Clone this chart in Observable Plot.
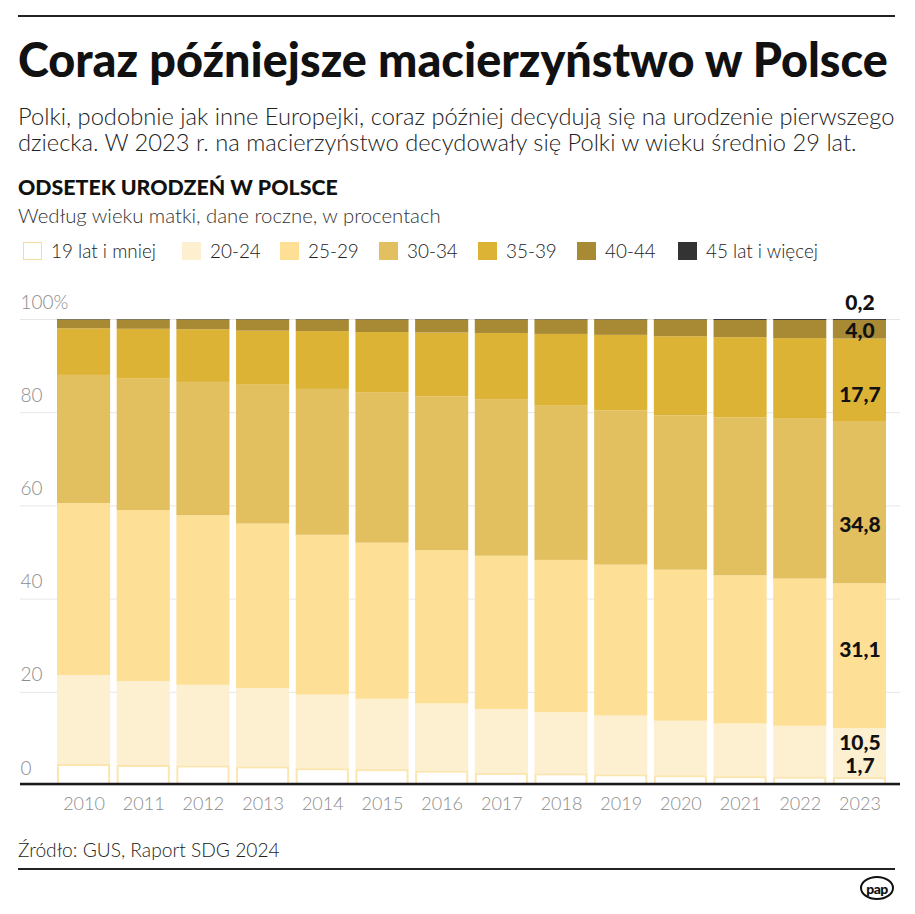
<!DOCTYPE html>
<html>
<head>
<meta charset="utf-8">
<script src="https://cdn.jsdelivr.net/npm/d3@7"></script>
<script src="https://cdn.jsdelivr.net/npm/@observablehq/plot@0.6"></script>
<style>
  html, body { margin: 0; padding: 0; background: #fff; }
  body { width: 915px; height: 914px; position: relative; overflow: hidden; font-family: Lato, "Open Sans", sans-serif; }
  .t { position: absolute; white-space: nowrap; line-height: 1.2; }
  .rule { position: absolute; left: 18px; width: 877px; height: 2px; background: #222; }
  #chart { position: absolute; left: 0; top: 285px; }
  .lg { position: absolute; height: 18px; width: 19px; box-sizing: border-box; }
  #logo { position: absolute; left: 860px; top: 876px; width: 34px; height: 24px; box-sizing: border-box;
          border: 2px solid #111; border-radius: 50%; font: 900 14px Lato, sans-serif; color: #111;
          display: flex; align-items: center; justify-content: center; letter-spacing: -0.5px; }
</style>
</head>
<body>
<div class="rule" style="top:15px"></div>
<span class="t" id="title">Coraz późniejsze macierzyństwo w Polsce</span>
<span class="t" id="sub1">Polki, podobnie jak inne Europejki, coraz później decydują się na urodzenie pierwszego</span>
<span class="t" id="sub2">dziecka. W 2023 r. na macierzyństwo decydowały się Polki w wieku średnio 29 lat.</span>
<span class="t" id="head">ODSETEK URODZEŃ W POLSCE</span>
<span class="t" id="head2">Według wieku matki, dane roczne, w procentach</span>
<div id="legend"></div>
<div id="chart"></div>
<span class="t" id="source">Źródło: GUS, Raport SDG 2024</span>
<div class="rule" style="top:868px"></div>
<div id="logo">pap</div>
<script>
// ---- data ----
const years = [2010, 2011, 2012, 2013, 2014, 2015, 2016, 2017, 2018, 2019, 2020, 2021, 2022, 2023];
const ages = ["19 lat i mniej", "20-24", "25-29", "30-34", "35-39", "40-44", "45 lat i więcej"];
const age19 = [4.5, 4.3, 4.2, 4.0, 3.6, 3.4, 3.1, 2.6, 2.5, 2.3, 2.1, 1.9, 1.8, 1.7];
const age20_24 = [19.1, 18.0, 17.3, 16.8, 15.8, 15.1, 14.4, 13.7, 13.1, 12.6, 11.7, 11.3, 10.9, 10.5];
const age25_29 = [36.9, 36.7, 36.4, 35.3, 34.3, 33.5, 32.9, 32.9, 32.7, 32.4, 32.4, 31.8, 31.6, 31.1];
const age30_34 = [27.5, 28.2, 28.6, 29.8, 31.3, 32.3, 33.0, 33.6, 33.1, 33.1, 33.1, 33.9, 34.3, 34.8];
const age35_39 = [10.0, 10.7, 11.3, 11.6, 12.4, 12.9, 13.7, 14.2, 15.4, 16.2, 17.0, 17.2, 17.3, 17.7];
const age40_44 = [1.9, 2.0, 2.1, 2.4, 2.5, 2.7, 2.8, 2.9, 3.1, 3.3, 3.6, 3.7, 3.9, 4.0];
const age45 = [0.1, 0.1, 0.1, 0.1, 0.1, 0.1, 0.1, 0.1, 0.1, 0.1, 0.1, 0.2, 0.2, 0.2];
const yTicks = [0, 20, 40, 60, 80, 100];

// ---- styles ----
const colors = ["#ffffff", "#fdf0d1", "#fde096", "#e2bf5f", "#dcb334", "#a88a35", "#333333"];
const series = [age19, age20_24, age25_29, age30_34, age35_39, age40_44, age45];
const data = years.flatMap((yr, i) => ages.map((a, j) => ({year: yr, age: a, value: series[j][i]})));
const lastYear = years[years.length - 1];
const fmt = v => v.toFixed(1).replace(".", ",");
const labelDy = {"19 lat i mniej": -15, "20-24": -10, "25-29": -6, "30-34": 23, "35-39": 15, "40-44": 2, "45 lat i więcej": -17};

// ---- header text placement ----
function place(id, x, cy, w, opts) {
  const el = document.getElementById(id);
  Object.assign(el.style, opts);
  el.style.left = x + "px";
  el.style.fontSize = "20px";
  if (w) {
    const cur = el.getBoundingClientRect().width;
    el.style.fontSize = (20 * w / cur) + "px";
  }
  const h = el.getBoundingClientRect().height;
  el.style.top = (cy - h / 2) + "px";
  return parseFloat(el.style.fontSize);
}
place("title", 18, 59, 870, {fontWeight: 900, color: "#111"});
const subFs = place("sub1", 18, 116, 877, {fontWeight: 300, color: "#222"});
const sub2 = document.getElementById("sub2");
sub2.style.fontWeight = 300; sub2.style.color = "#222"; sub2.style.left = "18px"; sub2.style.fontSize = subFs + "px";
sub2.style.top = (142 - sub2.getBoundingClientRect().height / 2) + "px";
place("head", 18, 188, 320, {fontWeight: 900, color: "#111"});
place("head2", 18, 215, 423, {fontWeight: 300, color: "#333"});
place("source", 18, 850, 262, {fontWeight: 300, color: "#222"});

// ---- legend ----
const legend = document.getElementById("legend");
const lgTextX = [51, 210, 308, 407, 506, 605, 706];
let lgFs = null;
ages.forEach((a, i) => {
  const sw = document.createElement("div");
  sw.className = "lg";
  sw.style.left = (lgTextX[i] - 28) + "px";
  sw.style.top = "242px";
  sw.style.background = colors[i];
  if (i === 0) sw.style.border = "1.5px solid #f6dba0";
  legend.appendChild(sw);
  const tx = document.createElement("span");
  tx.className = "t";
  tx.id = "lg" + i;
  tx.textContent = a;
  legend.appendChild(tx);
  if (i === 0) lgFs = place(tx.id, lgTextX[i], 251, 105, {fontWeight: 300, color: "#222"});
  else {
    tx.style.fontWeight = 300; tx.style.color = "#222"; tx.style.left = lgTextX[i] + "px"; tx.style.fontSize = lgFs + "px";
    tx.style.top = (251 - tx.getBoundingClientRect().height / 2) + "px";
  }
});

// ---- chart ----
const labelMarks = ages.map(a => Plot.text(data, Plot.stackY({
  x: "year", y: "value", z: "age",
  text: d => (d.year === lastYear && d.age === a) ? fmt(d.value) : null,
  dy: labelDy[a], fontWeight: 900, fontSize: 21, fill: "#111"
})));

const chart = Plot.plot({
  width: 915,
  height: 540,
  marginTop: 34,
  marginBottom: 40,
  marginLeft: 20,
  marginRight: 15,
  style: {fontFamily: "Lato, sans-serif", fontSize: "18px", background: "transparent", overflow: "visible"},
  x: {type: "band", domain: years, range: [57, 886], paddingInner: 0.11, paddingOuter: 0, round: false, label: null},
  y: {domain: [0, 100], axis: null},
  color: {domain: ages, range: colors},
  marks: [
    Plot.ruleY(yTicks, {stroke: "#e6e6e6", strokeWidth: 1}),
    Plot.barY(data, {x: "year", y: "value", fill: "age"}),
    Plot.barY(data.filter(d => d.age === ages[0]), {x: "year", y: "value", fill: "#ffffff", stroke: "#fbe6b0", strokeWidth: 2, inset: 1}),
    Plot.ruleY([0], {stroke: "#1a1a1a", strokeWidth: 2.5, dy: -1.5}),
    Plot.text(yTicks, {y: d => d, text: d => d === 100 ? "100%" : String(d), frameAnchor: "left", textAnchor: "start",
      dy: -17, fill: "#8c8c8c", fontSize: 19, fontWeight: 300}),
    Plot.axisX({tickSize: 0, tickPadding: 12, tickFormat: d => String(d), label: null, fill: "#8c8c8c", fontSize: 18, fontWeight: 300}),
    ...labelMarks
  ]
});
document.getElementById("chart").appendChild(chart);
</script>
</body>
</html>
